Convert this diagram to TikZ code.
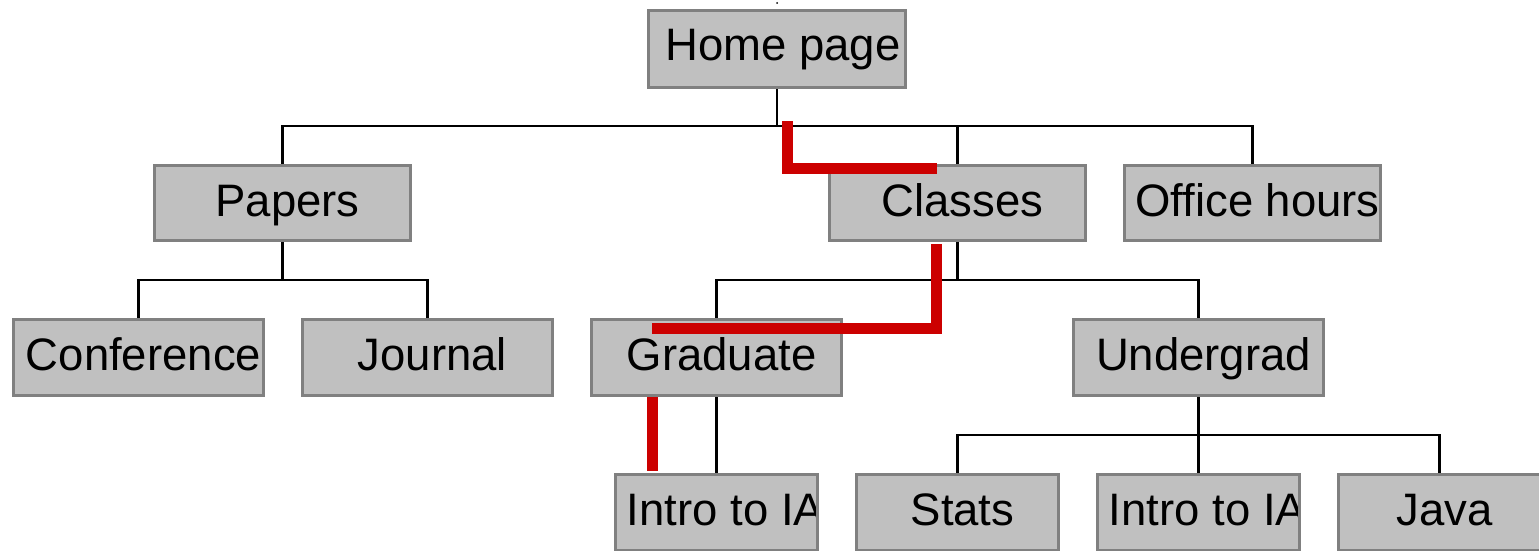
\documentclass[tikz,border=0pt]{standalone}
\usepackage{fontspec}
\setmainfont{Liberation Sans}
\definecolor{boxfill}{RGB}{192,192,192}
\definecolor{boxline}{RGB}{128,128,128}
\definecolor{trailred}{RGB}{204,0,0}
\pgfdeclarelayer{background}
\pgfsetlayers{background,main}
\begin{document}
\begin{tikzpicture}[x=1pt,y=-1pt,
  pagebox/.style={rectangle, draw=boxline, fill=boxfill, line width=3pt, inner sep=0pt},
  rootrow/.style={pagebox, minimum width=257pt, minimum height=77pt},
  toprow/.style={pagebox, minimum width=256pt, minimum height=75pt},
  midrow/.style={pagebox, minimum width=250pt, minimum height=76pt},
  lowrow/.style={pagebox, minimum width=202pt, minimum height=76pt},
  link/.style={line width=2.8pt, draw=black},
  trail/.style={line width=11pt, draw=trailred}]
\useasboundingbox (0,0) rectangle (1539,551);
\clip (0,0) rectangle (1539,551);

% a box whose label is clipped to its outline when it is too long
\newcommand\pagenode[5]{%
  \node[#1, path picture={\node[anchor=base, inner sep=0pt, font=\fontsize{45.5}{54}\selectfont]
      at ([xshift=#4, yshift=-50.5pt]path picture bounding box.north) {#5};}] (#2) at #3 {};}

% the small mark above the root
\fill (777,3) circle (1pt);

% pages of the site
\pagenode{rootrow}{home}{(777,49)}{6pt}{Home page}
\pagenode{toprow}{papers}{(282.5,203)}{5pt}{Papers}
\pagenode{toprow}{classes}{(957.5,203)}{5pt}{Classes}
\pagenode{toprow}{office}{(1252.5,203)}{5pt}{Office hours}
\pagenode{midrow}{conference}{(138.5,357.5)}{5pt}{Conference}
\pagenode{midrow}{journal}{(427.5,357.5)}{5pt}{Journal}
\pagenode{midrow}{graduate}{(716.5,357.5)}{5pt}{Graduate}
\pagenode{midrow}{undergrad}{(1198.5,357.5)}{5pt}{Undergrad}
\pagenode{lowrow}{introA}{(716.5,512.5)}{9pt}{Intro to IA}
\pagenode{lowrow}{stats}{(957.5,512.5)}{5pt}{Stats}
\pagenode{lowrow}{introB}{(1198.5,512.5)}{9pt}{Intro to IA}
\pagenode{lowrow}{java}{(1439.5,512.5)}{5pt}{Java}

% junction points of the tree, straight below each parent
\coordinate (j0) at (home.south |- 0,126);
\coordinate (j1) at (papers.south |- 0,280);
\coordinate (j2) at (classes.south |- 0,280);
\coordinate (j3) at (undergrad.south |- 0,435);

% tree connectors, kept behind the boxes
\begin{pgfonlayer}{background}
\draw[link] (home.south) -- (j0);
\draw[link] (j0) -| (papers.north);
\draw[link] (j0) -| (classes.north);
\draw[link] (j0) -| (office.north);
\draw[link] (papers.south) -- (j1);
\draw[link] (j1) -| (conference.north);
\draw[link] (j1) -| (journal.north);
\draw[link] (classes.south) -- (j2);
\draw[link] (j2) -| (graduate.north);
\draw[link] (j2) -| (undergrad.north);
\draw[link] (graduate.south) -- (introA.north);
\draw[link] (undergrad.south) -- (j3);
\draw[link] (j3) -| (stats.north);
\draw[link] (j3) -- (introB.north);
\draw[link] (j3) -| (java.north);
\end{pgfonlayer}

% highlighted route through the site
\coordinate (t1a) at (787.5,121);
\coordinate (t1b) at (787.5,168.5);
\coordinate (t1c) at (937,168.5);
\coordinate (t2a) at (936.5,244);
\coordinate (t2b) at (936.5,328);
\coordinate (t2c) at (652,328);
\coordinate (t3a) at (652,397);
\coordinate (t3b) at (652,471);
\draw[trail] (t1a) -- (t1b) -- (t1c);
\draw[trail] (t2a) -- (t2b) -- (t2c);
\draw[trail] (t3a) -- (t3b);
\end{tikzpicture}
\end{document}
